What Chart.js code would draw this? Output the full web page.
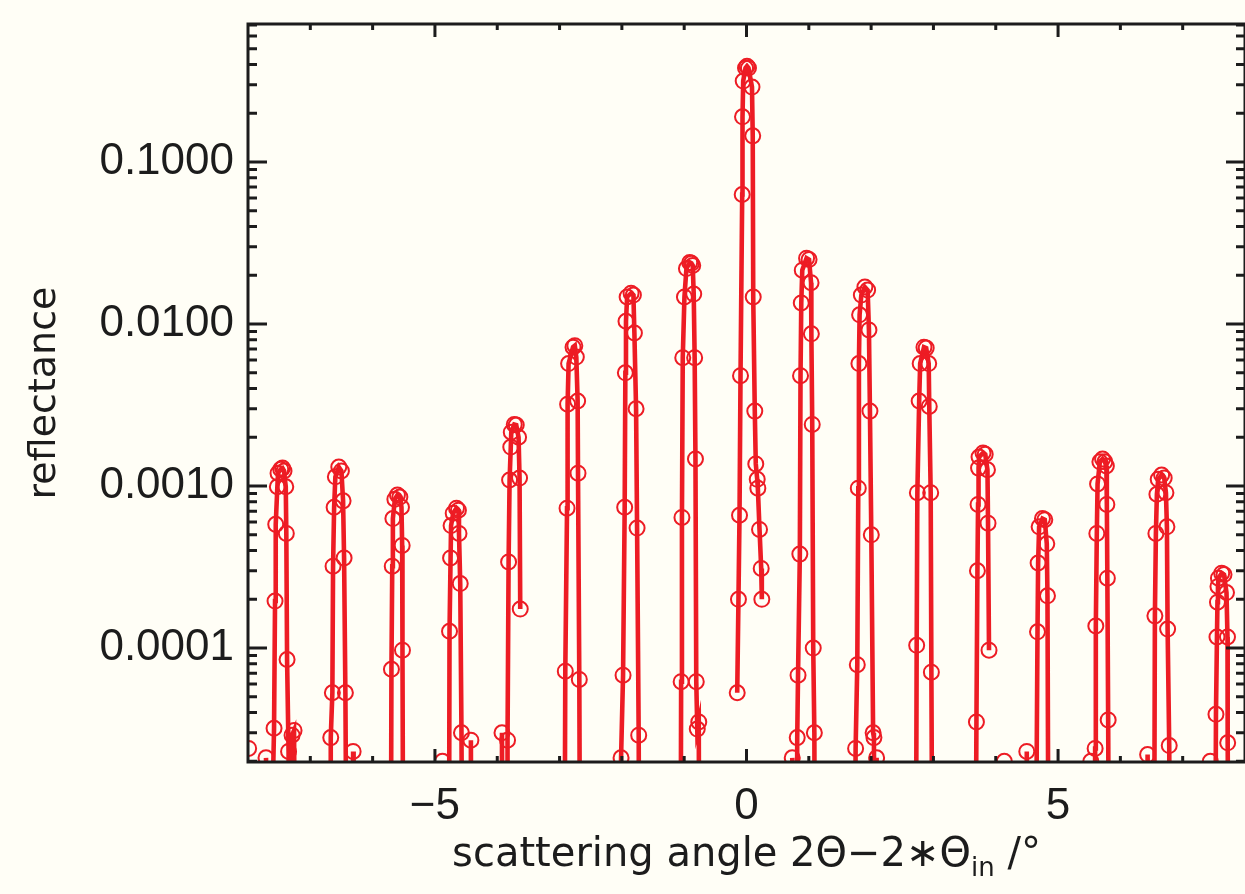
<!DOCTYPE html>
<html>
<head>
<meta charset="utf-8">
<script src="https://cdn.jsdelivr.net/npm/chart.js@4.4.0/dist/chart.umd.min.js"></script>
<style>
  html, body { margin: 0; padding: 0; background: #fffef6; }
  #wrap { width: 1245px; height: 894px; position: relative; }
</style>
</head>
<body>
<div id="wrap"><canvas id="reflChart"></canvas></div>
<script>
// scattering angle (deg) and reflectance, one line per diffraction order, null = gap
// 1e-6 marks samples that fall below the bottom of the axis
const angle = [
  -7.99, null,
  -7.711, -7.663, -7.582, -7.566, -7.555, -7.529, -7.518, -7.475, -7.446, -7.422, -7.394, -7.385, -7.373, -7.349, -7.325, -7.293, -7.261, -7.237, null,
  -6.683, -6.672, -6.646, -6.635, -6.618, -6.598, -6.543, -6.501, -6.474, -6.458, -6.437, -6.410, -6.321, -6.313, -6.305, null,
  -5.711, -5.698, -5.685, -5.675, -5.643, -5.602, -5.563, -5.537, -5.526, -5.521, -5.505, null,
  -4.879, -4.859, -4.777, -4.766, -4.749, -4.741, -4.707, -4.654, -4.623, -4.614, -4.594, -4.574, -4.557, -4.434, -4.423, -4.413, null,
  -3.936, -3.924, -3.912, -3.843, -3.835, -3.818, -3.802, -3.783, -3.775, -3.727, -3.695, -3.658, -3.642, -3.631, null,
  -2.924, -2.908, -2.880, -2.871, -2.855, -2.784, -2.755, -2.731, -2.710, -2.704, -2.683, -2.667, null,
  -2.032, -2.013, -1.981, -1.955, -1.944, -1.934, -1.916, -1.852, -1.815, -1.799, -1.772, -1.756, -1.730, -1.719, null,
  -1.060, -1.049, -1.036, -1.023, -0.996, -0.964, -0.911, -0.884, -0.863, -0.847, -0.832, -0.819, -0.806, -0.790, -0.766, -0.755, null,
  -0.149, -0.129, -0.112, -0.096, -0.069, -0.064, -0.053, -0.016, 0.008, 0.032, 0.088, 0.100, 0.108, 0.133, 0.149, 0.172, 0.182, 0.209, 0.236, 0.246, null,
  0.734, 0.806, 0.814, 0.827, 0.856, 0.867, 0.879, 0.895, 0.964, 1.004, 1.036, 1.041, 1.055, 1.071, 1.089, 1.100, null,
  1.735, 1.751, 1.778, 1.794, 1.804, 1.815, 1.843, 1.900, 1.944, 1.965, 1.981, 2.003, 2.032, 2.045, 2.056, 2.080, 2.088, 2.104, null,
  2.715, 2.731, 2.742, 2.771, 2.787, 2.848, 2.884, 2.924, 2.933, 2.956, 2.967, 2.988, null,
  3.671, 3.690, 3.706, 3.716, 3.724, 3.732, 3.796, 3.831, 3.867, 3.876, 3.892, null,
  4.113, 4.137, 4.161, 4.490, 4.498, 4.506, 4.635, 4.670, 4.680, 4.696, 4.750, 4.787, 4.819, 4.830, 4.851, null,
  5.510, 5.526, 5.566, 5.587, 5.595, 5.606, 5.622, 5.634, 5.671, 5.714, 5.751, 5.775, 5.783, 5.791, 5.804, 5.823, null,
  6.418, 6.437, 6.458, 6.538, 6.554, 6.570, 6.586, 6.607, 6.662, 6.703, 6.731, 6.747, 6.758, 6.784, 6.803, null,
  7.430, 7.443, 7.462, 7.518, 7.534, 7.550, 7.558, 7.566, 7.574, 7.626, 7.663, 7.703, 7.719, 7.722, 7.743
];
const reflectance = [
  2.4e-5, null,
  2.1e-5, 1e-6, 3.2e-5, 1.95e-4, 5.8e-4, 9.9e-4, 1.2e-3, 1.27e-3, 1.29e-3, 1.24e-3, 9.9e-4, 5.1e-4, 8.5e-5, 2.3e-5, 1e-6, 2.9e-5, 3.1e-5, 1e-6, null,
  1e-6, 2.8e-5, 5.3e-5, 3.2e-4, 7.4e-4, 1.14e-3, 1.31e-3, 1.24e-3, 8.1e-4, 3.6e-4, 5.3e-5, 1e-6, 1e-6, 2.3e-5, 1e-6, null,
  1e-6, 7.4e-5, 3.2e-4, 6.3e-4, 8.3e-4, 8.8e-4, 8.55e-4, 7.4e-4, 4.3e-4, 9.7e-5, 1e-6, null,
  2.0e-5, 1e-6, 1e-6, 1.27e-4, 3.6e-4, 5.7e-4, 6.8e-4, 7.3e-4, 7.1e-4, 5.1e-4, 2.5e-4, 3.0e-5, 1e-6, 1e-6, 2.7e-5, 1e-6, null,
  1e-6, 3.0e-5, 1e-6, 1e-6, 2.7e-5, 3.4e-4, 1.09e-3, 1.74e-3, 2.15e-3, 2.4e-3, 2.38e-3, 2.0e-3, 1.12e-3, 1.74e-4, null,
  1e-6, 7.2e-5, 7.3e-4, 3.2e-3, 5.7e-3, 7.2e-3, 7.35e-3, 6.25e-3, 3.35e-3, 1.2e-3, 6.4e-5, 1e-6, null,
  1e-6, 2.1e-5, 6.8e-5, 7.4e-4, 5.0e-3, 1.04e-2, 1.47e-2, 1.55e-2, 1.51e-2, 8.8e-3, 3.0e-3, 5.5e-4, 2.9e-5, 1e-6, null,
  1e-6, 6.2e-5, 6.4e-4, 6.2e-3, 1.47e-2, 2.2e-2, 2.4e-2, 2.37e-2, 2.3e-2, 1.53e-2, 6.2e-3, 1.47e-3, 6.2e-5, 3.16e-5, 3.5e-5, 1e-6, null,
  5.3e-5, 2.0e-4, 6.6e-4, 4.8e-3, 6.3e-2, 0.19, 0.316, 0.38, 0.39, 0.38, 0.29, 0.145, 1.47e-2, 2.9e-3, 1.37e-3, 1.10e-3, 9.7e-4, 5.4e-4, 3.1e-4, 2.0e-4, null,
  2.1e-5, 1e-6, 2.8e-5, 6.8e-5, 3.8e-4, 4.8e-3, 1.35e-2, 2.15e-2, 2.55e-2, 2.5e-2, 1.8e-2, 8.7e-3, 2.4e-3, 1.0e-4, 3.0e-5, 1e-6, null,
  1e-6, 2.4e-5, 7.9e-5, 9.7e-4, 5.7e-3, 1.14e-2, 1.51e-2, 1.69e-2, 1.62e-2, 9.2e-3, 2.9e-3, 5.0e-4, 3.0e-5, 2.8e-5, 1e-6, 1e-6, 2.1e-5, 1e-6, null,
  1e-6, 1.04e-4, 9.1e-4, 3.35e-3, 5.7e-3, 7.2e-3, 7.1e-3, 5.7e-3, 3.1e-3, 9.1e-4, 7.1e-5, 1e-6, null,
  1e-6, 3.5e-5, 3.0e-4, 7.7e-4, 1.29e-3, 1.51e-3, 1.6e-3, 1.57e-3, 1.26e-3, 5.9e-4, 9.7e-5, null,
  1e-6, 2.0e-5, 1e-6, 1e-6, 2.3e-5, 1e-6, 1e-6, 1.26e-4, 3.35e-4, 5.6e-4, 6.3e-4, 6.2e-4, 4.4e-4, 2.1e-4, 1e-6, null,
  1e-6, 2.0e-5, 1e-6, 1e-6, 2.4e-5, 1.37e-4, 5.1e-4, 1.03e-3, 1.41e-3, 1.47e-3, 1.41e-3, 1.33e-3, 7.7e-4, 2.7e-4, 3.6e-5, 1e-6, null,
  1e-6, 2.2e-5, 1e-6, 1e-6, 1.58e-4, 5.1e-4, 8.9e-4, 1.10e-3, 1.17e-3, 1.12e-3, 9.1e-4, 5.6e-4, 1.31e-4, 2.5e-5, 1e-6, null,
  1e-6, 2.0e-5, 1e-6, 1e-6, 3.9e-5, 1.17e-4, 1.92e-4, 2.4e-4, 2.7e-4, 2.9e-4, 2.84e-4, 2.2e-4, 1.17e-4, 2.6e-5, 1e-6
];

const xTickValues = [-5, 0, 5];
const yTickValues = [1e-4, 1e-3, 1e-2, 1e-1];
const xTitleParts = ['scattering angle 2Θ−2∗Θ', 'in', ' /°'];
const yTitle = 'reflectance';

const INK = '#1c1c1c';
const RED = '#ed1c24';

const points = angle.map((a, i) => ({ x: a, y: reflectance[i] }));

// box round the plot with inward ticks on all four sides, like the original
const frameTicks = {
  id: 'frameTicks',
  afterDatasetsDraw(chart) {
    const { ctx, chartArea: a, scales: { x, y } } = chart;
    ctx.save();
    ctx.strokeStyle = INK;
    ctx.lineWidth = 3;
    ctx.beginPath();
    for (let v = Math.ceil(x.min) + 1; v < x.max; v++) {
      const px = x.getPixelForValue(v);
      const len = v % 5 === 0 ? 13 : 6;
      ctx.moveTo(px, a.bottom); ctx.lineTo(px, a.bottom - len);
      ctx.moveTo(px, a.top); ctx.lineTo(px, a.top + len);
    }
    for (let e = -5; e <= 0; e++) {
      for (let m = 1; m <= 9; m++) {
        const v = m * Math.pow(10, e);
        if (v <= y.min || v >= y.max) continue;
        const py = y.getPixelForValue(v);
        const len = m === 1 ? 19 : 9;
        ctx.moveTo(a.left, py); ctx.lineTo(a.left + len, py);
        ctx.moveTo(a.right, py); ctx.lineTo(a.right - len, py);
      }
    }
    ctx.stroke();
    ctx.strokeRect(a.left, a.top, a.right - a.left, a.bottom - a.top);
    ctx.restore();
  }
};

// x title has a subscript, so it is drawn here
const xTitle = {
  id: 'xTitle',
  afterDraw(chart) {
    const { ctx, chartArea: a } = chart;
    const big = '40px "DejaVu Sans"';
    const small = '26px "DejaVu Sans"';
    ctx.save();
    ctx.fillStyle = INK;
    ctx.textBaseline = 'middle';
    ctx.textAlign = 'left';
    ctx.font = big;
    const w1 = ctx.measureText(xTitleParts[0]).width;
    const w3 = ctx.measureText(xTitleParts[2]).width;
    ctx.font = small;
    const w2 = ctx.measureText(xTitleParts[1]).width;
    let cx = (a.left + a.right) / 2 - (w1 + w2 + w3) / 2;
    const cy = a.bottom + 94;
    ctx.font = big;
    ctx.fillText(xTitleParts[0], cx, cy);
    cx += w1;
    ctx.font = small;
    ctx.fillText(xTitleParts[1], cx, cy + 13);
    cx += w2;
    ctx.font = big;
    ctx.fillText(xTitleParts[2], cx, cy);
    ctx.restore();
  }
};

new Chart(document.getElementById('reflChart'), {
  type: 'line',
  data: {
    datasets: [{
      data: points,
      borderColor: RED,
      borderWidth: 4.6,
      pointRadius: 7.5,
      pointHoverRadius: 7.5,
      pointBorderWidth: 2,
      pointBorderColor: RED,
      pointBackgroundColor: 'rgba(0,0,0,0)',
      tension: 0,
      spanGaps: false,
      clip: 0
    }]
  },
  options: {
    responsive: true,
    maintainAspectRatio: false,
    animation: false,
    events: [],
    layout: { autoPadding: false, padding: { top: 24, right: 0, bottom: 0, left: 0 } },
    plugins: { legend: { display: false }, tooltip: { enabled: false } },
    scales: {
      x: {
        type: 'linear',
        min: -8,
        max: 8,
        bounds: 'data',
        grid: { display: false, drawTicks: false },
        border: { display: false },
        afterBuildTicks: s => { s.ticks = xTickValues.map(v => ({ value: v })); },
        afterFit: s => { s.height = 132; s.paddingLeft = 0; s.paddingRight = 0; },
        ticks: {
          padding: 18,
          color: INK,
          maxRotation: 0,
          font: { family: '"Liberation Sans", Arial, sans-serif', size: 44 },
          callback: v => (v < 0 ? '−' + Math.abs(v) : String(v))
        }
      },
      y: {
        type: 'logarithmic',
        min: 1.98e-5,
        max: 0.711,
        bounds: 'data',
        grid: { display: false, drawTicks: false },
        border: { display: false },
        afterBuildTicks: s => { s.ticks = yTickValues.map(v => ({ value: v })); },
        afterFit: s => { s.width = 248; s.paddingTop = 0; s.paddingBottom = 0; },
        title: {
          display: true,
          text: yTitle,
          color: INK,
          padding: { top: 22, bottom: 0 },
          font: { family: '"DejaVu Sans", sans-serif', size: 38 }
        },
        ticks: {
          padding: 14,
          color: INK,
          font: { family: '"Liberation Sans", Arial, sans-serif', size: 44 },
          callback: v => Number(v).toFixed(4)
        }
      }
    }
  },
  plugins: [frameTicks, xTitle]
});
</script>
</body>
</html>
